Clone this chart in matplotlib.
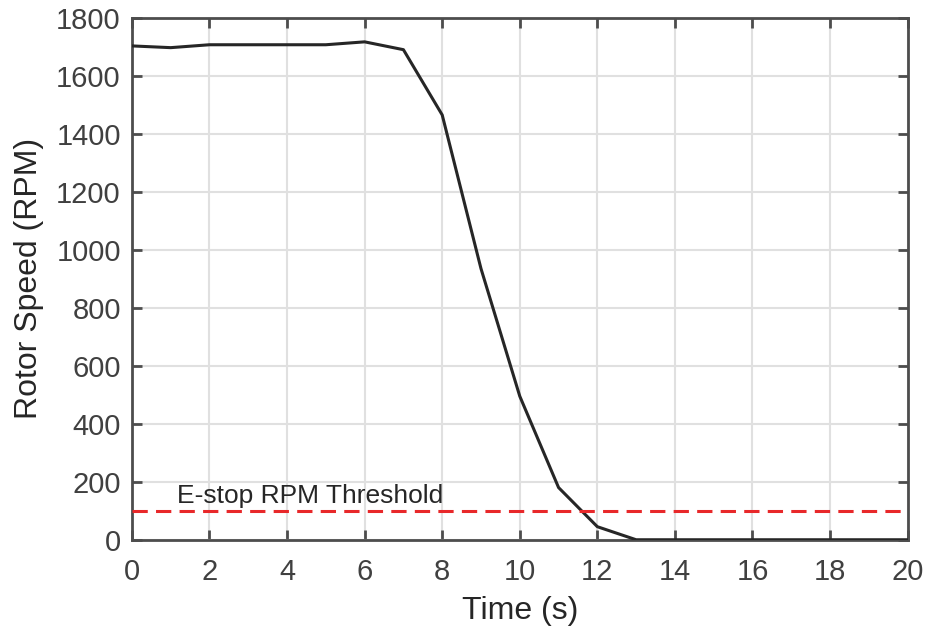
import matplotlib
matplotlib.use('Agg')
import matplotlib.pyplot as plt

plt.rcParams['font.family'] = ['Liberation Sans', 'DejaVu Sans']

time_s = [0, 1, 2, 3, 4, 5, 6, 7, 8, 9, 10, 11, 12, 13, 14, 15, 16, 17, 18, 19, 20]
rotor_rpm = [1703, 1697, 1707, 1707, 1707, 1707, 1717, 1690, 1465, 935, 495, 180, 45, 0, 0, 0, 0, 0, 0, 0, 0]
threshold_rpm = 100

fig = plt.figure(figsize=(9.29, 6.35), dpi=100)
ax = fig.add_axes([0.142, 0.150, 0.835, 0.822])

ax.plot(time_s, rotor_rpm, color='#262626', linewidth=2.2, zorder=3)
ax.axhline(threshold_rpm, color='#e8282a', linestyle=(0, (5, 2.7)), linewidth=2.2, zorder=3)
ax.text(1.15, 128, 'E-stop RPM Threshold', fontsize=19, color='#262626')

ax.set_xlim(0, 20)
ax.set_ylim(0, 1800)
ax.set_xticks(range(0, 21, 2))
ax.set_yticks(range(0, 1801, 200))
ax.grid(True, color='#e0e0e0', linewidth=1.5)
ax.set_axisbelow(True)
ax.tick_params(direction='in', length=7, width=2, colors='#4d4d4d', labelsize=21,
               top=True, right=True, labelcolor='#404040')
ax.tick_params(axis='x', pad=13)
ax.tick_params(axis='y', pad=8)
for s in ax.spines.values():
    s.set_color('#4d4d4d')
    s.set_linewidth(2)

ax.set_xlabel('Time (s)', fontsize=23, color='#262626')
ax.set_ylabel('Rotor Speed (RPM)', fontsize=23, color='#262626')
ax.xaxis.set_label_coords(0.5, -0.108)
ax.yaxis.set_label_coords(-0.113, 0.5)

plt.savefig('out.png')
